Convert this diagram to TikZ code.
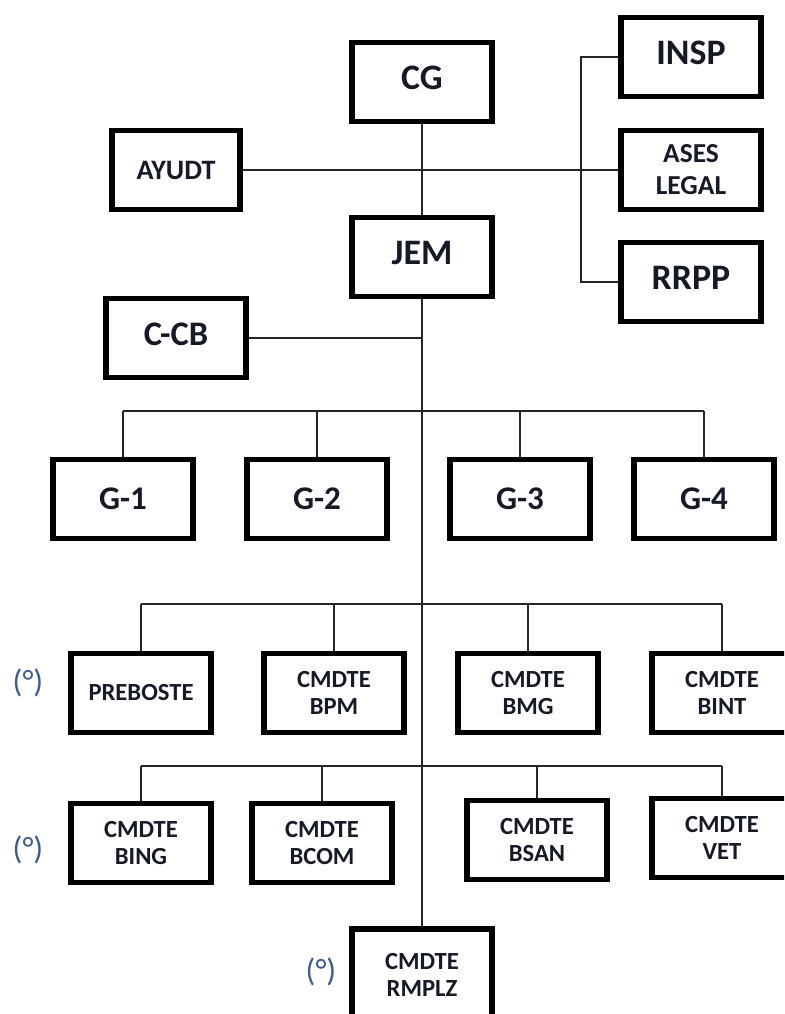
\documentclass[tikz,border=0pt]{standalone}
\usepackage{fontspec}
\setmainfont{Carlito}
\definecolor{unittext}{HTML}{151A26}
\definecolor{marktext}{HTML}{3E5C8F}

\begin{document}
\begin{tikzpicture}[x=0.025cm, y=-0.025cm,
    unit/.style={draw=black, line width=3.6pt, minimum width=3.5cm, minimum height=1.97cm,
      align=center, text=unittext, inner sep=1pt},
    big/.style={font=\bfseries\fontsize{25.5}{30}\selectfont, text depth=6pt},
    mid/.style={font=\bfseries\fontsize{23.5}{28}\selectfont},
    small/.style={font=\bfseries\fontsize{19.5}{22.7}\selectfont},
    tiny/.style={font=\bfseries\fontsize{17.5}{19}\selectfont},
    link/.style={line width=1.1pt, draw=black!85},
    notemark/.style={text=marktext, font=\fontsize{23}{27}\selectfont}]
\clip (0,0) rectangle (784,1014);
\node[unit, big] (cg) at (422,82) {CG};
\node[unit, big] (insp) at (691,57) {INSP};
\node[unit, small, minimum width=3.2cm, font=\bfseries\fontsize{20}{24}\selectfont] (ayudt) at (176,170) {AYUDT};
\node[unit, small] (ases) at (691,170) {ASES\\LEGAL};
\node[unit, big] (jem) at (422,257) {JEM};
\node[unit, big] (rrpp) at (691,282) {RRPP};
\node[unit, mid, font=\bfseries\fontsize{24.5}{28}\selectfont, text depth=6pt] (ccb) at (176,338) {C-CB};
\node[unit, mid] (g1) at (123,499) {G-1};
\node[unit, mid] (g2) at (317,499) {G-2};
\node[unit, mid] (g3) at (520,499) {G-3};
\node[unit, mid] (g4) at (704,499) {G-4};
\node[unit, tiny] (preb) at (141,693) {PREBOSTE};
\node[unit, tiny] (bpm) at (334,693) {CMDTE\\BPM};
\node[unit, tiny] (bmg) at (528,693) {CMDTE\\BMG};
\node[unit, tiny] (bint) at (722,693) {CMDTE\\BINT};
\node[unit, tiny] (bing) at (141,843) {CMDTE\\BING};
\node[unit, tiny] (bcom) at (322,843) {CMDTE\\BCOM};
\node[unit, tiny] (bsan) at (537,840) {CMDTE\\BSAN};
\node[unit, tiny] (vet) at (722,838) {CMDTE\\VET};
\node[unit, tiny, minimum height=2.3cm] (rmplz) at (422,975) {CMDTE\\RMPLZ};
\node[notemark] (m1) at (28,683) {(°)};
\node[notemark] (m2) at (28,850) {(°)};
\node[notemark] (m3) at (321,972) {(°)};
\coordinate (bra) at (581,170);
\coordinate (bus1) at (422,411);
\coordinate (bus2) at (422,604);
\coordinate (bus3) at (422,766);
\draw[link] (cg) -- (jem);
\draw[link] (jem) -- (rmplz);
\draw[link] (ayudt) -- (ases);
\draw[link] (insp.west) -- (insp.west -| bra) |- (rrpp.west);
\draw[link] (ccb.east) -- (ccb.east -| jem.south);
\draw[link] (g1.north |- bus1) -- (g4.north |- bus1);
\draw[link] (preb.north |- bus2) -- (bint.north |- bus2);
\draw[link] (bing.north |- bus3) -- (vet.north |- bus3);
\foreach \n/\b in {g1/bus1, g2/bus1, g3/bus1, g4/bus1, preb/bus2, bpm/bus2, bmg/bus2, bint/bus2,
    bing/bus3, bcom/bus3, bsan/bus3, vet/bus3}
  \draw[link] (\n.north) -- (\n.north |- \b);
\end{tikzpicture}
\end{document}
